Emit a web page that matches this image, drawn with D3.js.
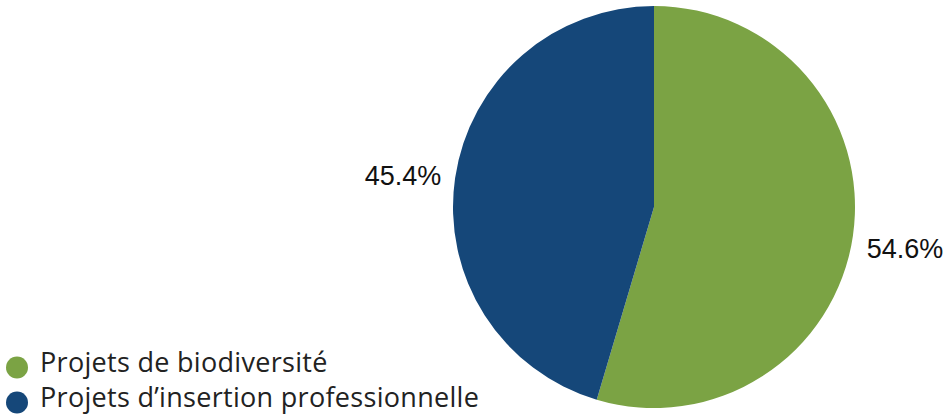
<!DOCTYPE html>
<html lang="fr">
<head>
  <meta charset="utf-8">
  <title>Répartition des projets</title>
  <script src="https://d3js.org/d3.v7.min.js"></script>
  <style>
    body { margin: 0; background: #fff; }
    svg { display: block; }
  </style>
</head>
<body>
<div id="chart"></div>
<script>

// data
var categories = ["Projets de biodiversité", "Projets d\u2019insertion professionnelle"];
var shares = [54.6, 45.4];
var colors = ["#7ba344", "#154779"];

var width = 945, height = 418;
var cx = 654, cy = 207, radius = 201;

var svg = d3.select("#chart")
  .append("svg")
    .attr("width", width)
    .attr("height", height);

var pie = d3.pie()
    .value(function(d) { return d; })
    .sort(null);   // keep order, start at 12 o'clock going clockwise

var arc = d3.arc()
    .innerRadius(0)
    .outerRadius(radius);

var arcs = pie(shares);

var g = svg.append("g")
    .attr("transform", "translate(" + cx + "," + cy + ")");

g.selectAll("path")
  .data(arcs)
  .enter()
  .append("path")
    .attr("d", arc)
    .style("fill", function(d, i) { return colors[i]; });

// percentage labels just outside the pie
var labelArc = d3.arc()
    .innerRadius(radius + 14)
    .outerRadius(radius + 14);

function rightSide(d) { return (d.startAngle + d.endAngle) / 2 < Math.PI; }

g.selectAll("text.pct")
  .data(arcs)
  .enter()
  .append("text")
    .attr("class", "pct")
    .attr("transform", function(d) { return "translate(" + labelArc.centroid(d) + ")"; })
    .attr("text-anchor", function(d) { return rightSide(d) ? "start" : "end"; })
    .attr("dy", function(d) { return rightSide(d) ? "0.75em" : "0.35em"; })
    .style("font-family", "Liberation Sans, Arial, sans-serif")
    .style("font-size", "27px")
    .style("fill", "#111")
    .text(function(d) { return d.data.toFixed(1) + "%"; });

// legend, bottom left
var legendY = d3.scaleBand()
    .domain(categories)
    .range([350, 420]);

var legend = svg.selectAll("g.legend")
  .data(categories)
  .enter()
  .append("g")
    .attr("class", "legend")
    .attr("transform", function(d) { return "translate(0," + (legendY(d) + legendY.bandwidth() / 2) + ")"; });

legend.append("circle")
    .attr("cx", 17)
    .attr("cy", 0)
    .attr("r", 11)
    .style("fill", function(d, i) { return colors[i]; });

legend.append("text")
    .attr("x", 40)
    .attr("y", 4)
    .style("font-family", "Open Sans, sans-serif")
    .style("font-size", "27px")
    .style("letter-spacing", "0.3px")
    .style("fill", "#222")
    .text(function(d) { return d; });

</script>
</body>
</html>
